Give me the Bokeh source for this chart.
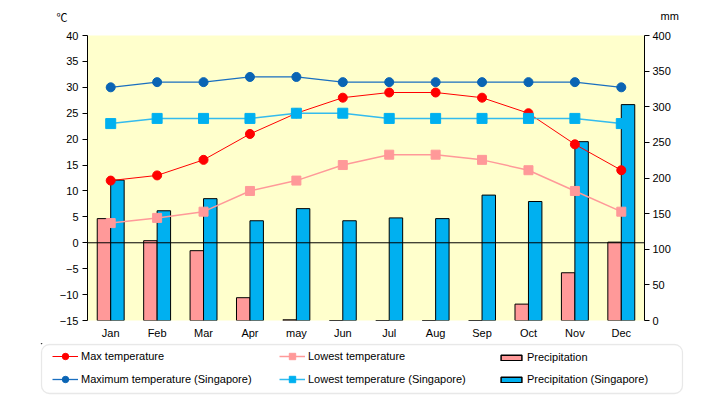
from bokeh.plotting import figure
from bokeh.models import Range1d, LinearAxis, Span, Legend, LegendItem, Label, FixedTicker, BoxAnnotation
from bokeh.layouts import column
from bokeh.embed import file_html
from bokeh.resources import INLINE

months = ["Jan", "Feb", "Mar", "Apr", "may", "Jun", "Jul", "Aug", "Sep", "Oct", "Nov", "Dec"]
max_temp = [12, 13, 16, 21, 25, 28, 29, 29, 28, 25, 19, 14]
low_temp = [3.8, 4.8, 6, 10, 12, 15, 17, 17, 16, 14, 10, 6]
precip = [143, 112, 98, 32, 1, 0, 0, 0, 0, 23, 67, 110]
sg_max = [30, 31, 31, 32, 32, 31, 31, 31, 31, 31, 31, 30]
sg_low = [23, 24, 24, 24, 25, 25, 24, 24, 24, 24, 24, 23]
sg_precip = [197, 154, 171, 140, 157, 140, 144, 143, 176, 167, 251, 303]
temp_ticks = list(range(-15, 41, 5))
mm_ticks = list(range(0, 401, 50))

x = [i + 1 for i in range(len(months))]
bw = 0.29
x_left = [v - bw / 2 for v in x]
x_right = [v + bw / 2 for v in x]

FONT = "Liberation Sans"

STY = {
    "max": dict(color="#FF0000", lw=1, marker="circle", mcolor="#FF0000", size=9),
    "low": dict(color="#FF9999", lw=1.5, marker="square", mcolor="#FF9999", size=9),
    "sgmax": dict(color="#1A6FC0", lw=1.3, marker="circle", mcolor="#0A64B4", size=9),
    "sglow": dict(color="#33BBEE", lw=1.5, marker="square", mcolor="#00B0F0", size=10),
}
BAR_P = "#FF9999"
BAR_S = "#00B0F0"
SERIES = {"max": max_temp, "low": low_temp, "sgmax": sg_max, "sglow": sg_low}

p = figure(width=720, height=343, output_backend="svg", toolbar_location=None,
           x_range=Range1d(0.5, 12.5), y_range=Range1d(-15, 40),
           min_border_left=87, min_border_right=76, min_border_top=35, min_border_bottom=23)
p.extra_y_ranges = {"mm": Range1d(0, 400)}
p.background_fill_color = "#FFFFCC"
p.border_fill_color = "white"
p.outline_line_color = None
p.xgrid.visible = False
p.ygrid.visible = False

p.vbar(x=x_left, top=precip, bottom=0, width=bw, y_range_name="mm",
       fill_color=BAR_P, line_color="black", line_width=1)
p.vbar(x=x_right, top=sg_precip, bottom=0, width=bw, y_range_name="mm",
       fill_color=BAR_S, line_color="black", line_width=1)

p.add_layout(Span(location=0, dimension="width", line_color="black", line_width=1))

for key, ys in SERIES.items():
    s = STY[key]
    p.line(x, ys, line_color=s["color"], line_width=s["lw"])
    p.scatter(x, ys, marker=s["marker"], size=s["size"], fill_color=s["mcolor"], line_color=s["mcolor"])

p.xaxis.ticker = FixedTicker(ticks=x)
p.xaxis.major_label_overrides = {v: m for v, m in zip(x, months)}
p.xaxis.axis_line_color = None
p.xaxis.major_tick_line_color = None
p.xaxis.minor_tick_line_color = None
p.xaxis.major_tick_out = 0
p.xaxis.major_tick_in = 0
p.xaxis.major_label_standoff = 6

p.yaxis.ticker = FixedTicker(ticks=temp_ticks)
p.yaxis.minor_tick_line_color = None
p.yaxis.major_tick_out = 5
p.yaxis.major_tick_in = 0
p.yaxis.major_label_standoff = 4

ra = LinearAxis(y_range_name="mm", ticker=FixedTicker(ticks=mm_ticks))
ra.minor_tick_line_color = None
ra.major_tick_out = 5
ra.major_tick_in = 0
ra.major_label_standoff = 3
p.add_layout(ra, "right")

for ax in [p.xaxis[0], p.yaxis[0], ra]:
    ax.major_label_text_font = FONT
    ax.major_label_text_font_size = "11px"
    ax.major_label_text_color = "black"
for ax in [p.yaxis[0], ra]:
    ax.axis_line_color = "black"
    ax.major_tick_line_color = "black"

p.add_layout(Label(x=-31, y=11, x_units="screen", y_units="screen", text="℃",
                   text_font="Noto Sans CJK JP", text_font_size="11px", text_color="black",
                   text_baseline="bottom", text_align="left"), "above")
p.add_layout(Label(x=573, y=-2, x_units="screen", y_units="screen", text="mm",
                   text_font=FONT, text_font_size="11px", text_color="black",
                   text_baseline="bottom", text_align="left"), "above")

# legend strip: its own small figure; frame 643 x 52 px, ranges in pixels
q = figure(width=720, height=52, output_backend="svg", toolbar_location=None,
           x_range=Range1d(0, 643), y_range=Range1d(0, 52),
           x_axis_location=None, y_axis_location=None,
           min_border_left=40, min_border_right=37, min_border_top=0, min_border_bottom=0)
q.extra_y_ranges = {"hide": Range1d(-1, -0.5)}
for m in (p, q):
    if "frame_align" in m.properties():
        m.frame_align = False
q.xgrid.visible = False
q.ygrid.visible = False
q.background_fill_color = "white"
q.border_fill_color = "white"
q.outline_line_color = None

box_kw = dict(left=1, right=642, bottom=2, top=51, fill_alpha=0,
              line_color="#B4B4B4", line_width=1.3, level="underlay")
if "border_radius" in BoxAnnotation.properties():
    box_kw["border_radius"] = 8
q.add_layout(BoxAnnotation(**box_kw))


def line_item(key, label):
    s = STY[key]
    ys = SERIES[key]
    r1 = q.line(x[:1], ys[:1], line_color=s["color"], line_width=s["lw"], y_range_name="hide")
    r2 = q.scatter(x[:1], ys[:1], marker=s["marker"], size=s["size"] - 2,
                   fill_color=s["mcolor"], line_color=s["mcolor"], y_range_name="hide")
    return LegendItem(label=label, renderers=[r1, r2])


def bar_item(vals, color, label):
    r = q.vbar(x=x[:1], top=vals[:1], bottom=vals[:1], width=0.1, y_range_name="hide",
               fill_color=color, line_color="black", line_width=1.5)
    return LegendItem(label=label, renderers=[r])


cols = [
    ([line_item("max", "Max temperature"), line_item("sgmax", "Maximum temperature (Singapore)")], 12, 8, 26, 16, 16, 7),
    ([line_item("low", "Lowest temperature"), line_item("sglow", "Lowest temperature (Singapore)")], 239, 8, 26, 16, 16, 7),
    ([bar_item(precip, BAR_P, "Precipitation"), bar_item(sg_precip, BAR_S, "Precipitation (Singapore)")], 458, 10, 26, 7, 12, 10),
]
for items, lx, ly, gw, gh, lh, sp in cols:
    lg = Legend(items=items, orientation="vertical", location=(lx, ly))
    lg.label_text_font = FONT
    lg.label_text_font_size = "11px"
    lg.label_text_color = "black"
    lg.glyph_width = gw
    lg.glyph_height = gh
    lg.label_height = lh
    lg.label_standoff = 3
    lg.spacing = sp
    lg.padding = 0
    lg.margin = 0
    lg.border_line_color = None
    lg.background_fill_alpha = 0
    q.add_layout(lg)

open("out.html", "w").write(file_html(column(p, q, spacing=0), INLINE))
